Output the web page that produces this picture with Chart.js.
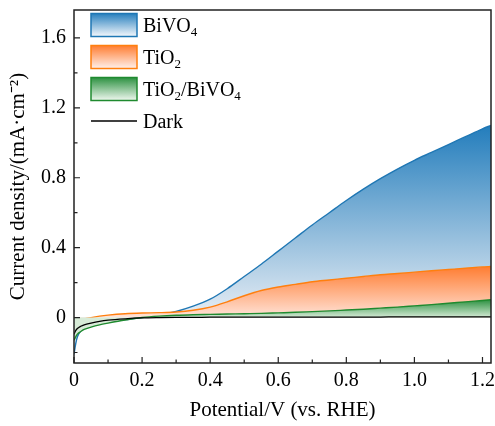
<!DOCTYPE html>
<html>
<head>
<meta charset="utf-8">
<script src="https://cdn.jsdelivr.net/npm/chart.js@4.4.1/dist/chart.umd.min.js"></script>
<style>
  html, body { margin: 0; padding: 0; background: #fff; }
  #wrap { width: 495px; height: 426px; }
</style>
</head>
<body>
<div id="wrap"><canvas id="myChart"></canvas></div>
<script>
const potential = [0, 0.005, 0.01, 0.02, 0.03, 0.05, 0.075, 0.1, 0.15, 0.2, 0.25, 0.3, 0.35, 0.4, 0.45, 0.5, 0.55, 0.6, 0.65, 0.7, 0.75, 0.8, 0.85, 0.9, 0.95, 1.0, 1.05, 1.1, 1.15, 1.2, 1.225];
const bivo4 = [-0.21, -0.15, -0.11, -0.075, -0.06, -0.045, -0.032, -0.024, -0.012, 0.0, 0.015, 0.035, 0.065, 0.105, 0.165, 0.235, 0.305, 0.38, 0.455, 0.53, 0.60, 0.67, 0.735, 0.795, 0.85, 0.90, 0.945, 0.99, 1.035, 1.08, 1.10];
const tio2 = [-0.05, -0.035, -0.025, -0.015, -0.008, 0.0, 0.008, 0.014, 0.022, 0.026, 0.028, 0.032, 0.042, 0.06, 0.09, 0.125, 0.155, 0.175, 0.19, 0.205, 0.215, 0.225, 0.235, 0.245, 0.252, 0.26, 0.268, 0.275, 0.282, 0.29, 0.292];
const tio2Bivo4 = [-0.13, -0.11, -0.095, -0.08, -0.068, -0.055, -0.042, -0.032, -0.014, 0.0, 0.008, 0.013, 0.016, 0.018, 0.02, 0.022, 0.024, 0.027, 0.03, 0.034, 0.038, 0.043, 0.048, 0.054, 0.06, 0.067, 0.074, 0.082, 0.09, 0.098, 0.102];
const dark = [-0.095, -0.075, -0.063, -0.05, -0.042, -0.032, -0.022, -0.015, -0.007, -0.002, 0.0, 0.001, 0.001, 0.002, 0.002, 0.002, 0.002, 0.003, 0.003, 0.003, 0.003, 0.003, 0.003, 0.003, 0.004, 0.004, 0.004, 0.004, 0.004, 0.004, 0.004];

const xMajor = [0, 0.2, 0.4, 0.6, 0.8, 1.0, 1.2];
const xMinor = [0.1, 0.3, 0.5, 0.7, 0.9, 1.1];
const yMajor = [0, 0.4, 0.8, 1.2, 1.6];
const yMinor = [-0.2, 0.2, 0.6, 1.0, 1.4];

const serif = "'Liberation Serif', 'Times New Roman', Times, serif";

function pts(ys) {
    return potential.map((x, i) => ({ x: x, y: ys[i] }));
}

function vGradient(chart, top, bottom, c1, c2) {
    const g = chart.ctx.createLinearGradient(0, top, 0, bottom);
    g.addColorStop(0, c1);
    g.addColorStop(1, c2);
    return g;
}

function fillFor(ys, c1, c2) {
    return function (context) {
        const chart = context.chart;
        if (!chart.chartArea) return c2;
        const sy = chart.scales.y;
        const top = sy.getPixelForValue(Math.max(...ys));
        const bottom = sy.getPixelForValue(0);
        return vGradient(chart, top, bottom, c1, c2);
    };
}

// legend entries: label parts [text, subscript?]
const legendItems = [
    { parts: [['BiVO', 0], ['4', 1]], line: '#1f77b4', c1: 'rgb(40,128,190)', c2: 'rgb(245,248,252)' },
    { parts: [['TiO', 0], ['2', 1]], line: '#ff7f0e', c1: 'rgb(255,125,50)', c2: 'rgb(255,240,235)' },
    { parts: [['TiO', 0], ['2', 1], ['/BiVO', 0], ['4', 1]], line: '#1f8a2f', c1: 'rgb(45,145,65)', c2: 'rgb(240,248,240)' },
    { parts: [['Dark', 0]], line: '#000', dark: true }
];

const framePlugin = {
    id: 'frame',
    afterDraw(chart) {
        const { ctx, chartArea: a, scales } = chart;
        ctx.save();
        ctx.strokeStyle = '#222';
        ctx.lineWidth = 1.5;
        ctx.strokeRect(a.left, a.top, a.right - a.left, a.bottom - a.top);
        ctx.lineWidth = 1.2;
        ctx.beginPath();
        const tx = (v, len) => {
            const px = scales.x.getPixelForValue(v);
            ctx.moveTo(px, a.bottom); ctx.lineTo(px, a.bottom - len);
        };
        const ty = (v, len) => {
            const py = scales.y.getPixelForValue(v);
            ctx.moveTo(a.left, py); ctx.lineTo(a.left + len, py);
        };
        xMajor.forEach(v => tx(v, 6));
        xMinor.forEach(v => tx(v, 3.5));
        yMajor.forEach(v => ty(v, 6));
        yMinor.forEach(v => ty(v, 3.5));
        ctx.stroke();

        // legend
        const bx = a.left + 17, bw = 46, bh = 23;
        legendItems.forEach((it, i) => {
            const cy = a.top + 15 + i * 32;
            if (it.dark) {
                ctx.strokeStyle = '#000';
                ctx.lineWidth = 1.5;
                ctx.beginPath();
                ctx.moveTo(bx, cy); ctx.lineTo(bx + bw, cy);
                ctx.stroke();
            } else {
                ctx.fillStyle = vGradient(chart, cy - bh / 2, cy + bh / 2, it.c1, it.c2);
                ctx.fillRect(bx, cy - bh / 2, bw, bh);
                ctx.strokeStyle = it.line;
                ctx.lineWidth = 1.5;
                ctx.strokeRect(bx, cy - bh / 2, bw, bh);
            }
            let x = bx + bw + 6;
            ctx.fillStyle = '#000';
            ctx.textBaseline = 'alphabetic';
            it.parts.forEach(([t, sub]) => {
                ctx.font = (sub ? '13px ' : '20px ') + serif;
                ctx.fillText(t, x, cy + 7 + (sub ? 4 : 0));
                x += ctx.measureText(t).width;
            });
        });
        ctx.restore();
    }
};

const ctx = document.getElementById('myChart').getContext('2d');
const myChart = new Chart(ctx, {
    type: 'line',
    data: {
        datasets: [
            { label: 'Dark', data: pts(dark), borderColor: '#000', borderWidth: 1.3, fill: false },
            { label: 'TiO2/BiVO4', data: pts(tio2Bivo4), borderColor: '#1f8a2f', borderWidth: 1.4, fill: 'origin',
              backgroundColor: fillFor(tio2Bivo4, 'rgb(45,145,65)', 'rgb(215,235,215)') },
            { label: 'TiO2', data: pts(tio2), borderColor: '#ff7f0e', borderWidth: 1.4, fill: 'origin',
              backgroundColor: fillFor(tio2, 'rgb(255,125,50)', 'rgb(255,228,218)') },
            { label: 'BiVO4', data: pts(bivo4), borderColor: '#1f77b4', borderWidth: 1.4, fill: 'origin',
              backgroundColor: fillFor(bivo4, 'rgb(35,125,188)', 'rgb(232,238,245)') }
        ]
    },
    options: {
        responsive: true,
        maintainAspectRatio: false,
        animation: false,
        layout: { padding: { top: 10, right: 4, left: 0, bottom: 0 } },
        elements: {
            point: { radius: 0 },
            line: { cubicInterpolationMode: 'monotone' }
        },
        scales: {
            x: {
                type: 'linear',
                min: 0,
                max: 1.225,
                grid: { display: false, drawTicks: false },
                border: { display: false },
                afterBuildTicks: s => { s.ticks = xMajor.map(v => ({ value: v })); },
                afterFit: s => { s.height = 63; s.paddingLeft = 0; s.paddingRight = 0; },
                ticks: {
                    padding: 6,
                    color: '#000',
                    font: { family: serif, size: 20 },
                    callback: v => (v === 0 ? '0' : v.toFixed(1))
                },
                title: {
                    display: true,
                    text: 'Potential/V (vs. RHE)',
                    color: '#000',
                    font: { family: serif, size: 21 },
                    padding: { top: 0, bottom: 3 }
                }
            },
            y: {
                min: -0.26,
                max: 1.76,
                grid: { display: false, drawTicks: false },
                border: { display: false },
                afterBuildTicks: s => { s.ticks = yMajor.map(v => ({ value: v })); },
                afterFit: s => { s.width = 74; s.paddingTop = 0; s.paddingBottom = 0; },
                ticks: {
                    padding: 8,
                    color: '#000',
                    font: { family: serif, size: 20 },
                    callback: v => (v === 0 ? '0' : v.toFixed(1))
                },
                title: {
                    display: true,
                    text: 'Current density/(mA·cm⁻²)',
                    color: '#000',
                    font: { family: serif, size: 21 },
                    padding: { top: 6, bottom: 1 }
                }
            }
        },
        plugins: {
            legend: { display: false },
            tooltip: { enabled: false }
        }
    },
    plugins: [framePlugin]
});
</script>
</body>
</html>
